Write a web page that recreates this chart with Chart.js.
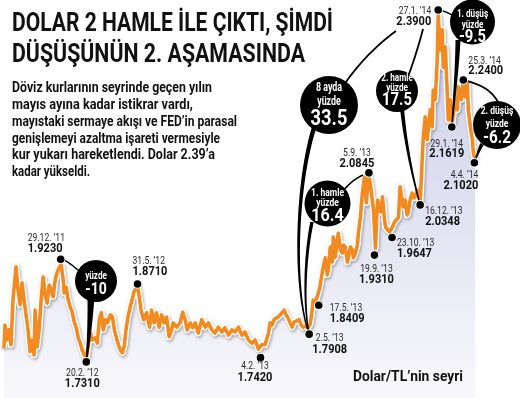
<!DOCTYPE html>
<html lang="tr"><head><meta charset="utf-8">
<script src="https://cdn.jsdelivr.net/npm/chart.js@4/dist/chart.umd.min.js"></script>
<style>
html,body{margin:0;padding:0;background:#fff;}
#wrap{position:relative;width:520px;height:398px;overflow:hidden;background:#fff;}
#c{position:absolute;left:0;top:0;}
.fit{position:absolute;white-space:nowrap;display:inline-block;transform-origin:0 0;font-family:Roboto,"Liberation Sans",sans-serif;font-weight:bold;color:#111;}
.t{font-size:26px;line-height:26px;}
.p{font-size:15.5px;line-height:16.7px;}
.s{font-size:14px;line-height:14px;}
</style></head><body>
<div id="wrap">
<canvas id="c" width="520" height="398"></canvas>
<div class="fit t" data-w="321" style="left:12px;top:9px">DOLAR 2 HAMLE İLE ÇIKTI, ŞİMDİ</div>
<div class="fit t" data-w="293" style="left:12px;top:40px">DÜŞÜŞÜNÜN 2. AŞAMASINDA</div>
<div class="fit p" data-w="200" style="left:12px;top:79.4px">Döviz kurlarının seyrinde geçen yılın</div>
<div class="fit p" data-w="181" style="left:12px;top:96.1px">mayıs ayına kadar istikrar vardı,</div>
<div class="fit p" data-w="225" style="left:12px;top:112.8px">mayıstaki sermaye akışı ve FED’in parasal</div>
<div class="fit p" data-w="208" style="left:12px;top:129.5px">genişlemeyi azaltma işareti vermesiyle</div>
<div class="fit p" data-w="203" style="left:12px;top:146.2px">kur yukarı hareketlendi. Dolar 2.39’a</div>
<div class="fit p" data-w="78" style="left:12px;top:162.9px">kadar yükseldi.</div>
<div class="fit s" data-w="110" style="left:353px;top:369px">Dolar/TL’nin seyri</div>
</div>
<script>
// ---- data: days since 1 Sep 2011, USD/TRY level ----
const days = [6,8,12,16,20,24,30,34,38,42,46,50,54,58,62,66,68,72,76,80,84,88,92,96,100,104,108,112,116,120,124,126,130,134,138,142,146,150,154,158,162,166,170,174,178,182,188,192,196,200,204,208,212,218,222,226,230,234,238,242,246,249,253,257,261,265,269,271,275,
 279,284,290,296,300,305,310,315,320,325,330,335,340,343,350,357,362,367,371,377,382,387,393,400,407,413,420,426,433,440,446,453,460,466,473,480,486,493,500,506,513,519,526,533,
 536,540,544,548,552,556,560,564,568,572,576,580,584,590,594,598,602,606,612,616,620,622,626,630,634,636,640,642,646,650,652,656,660,662,666,670,672,676,680,682,686,690,692,696,700,702,706,710,712,716,720,724,728,732,736,738,742,746,750,754,756,760,764,766,770,774,780,784,788,792,795,799,801,805,809,811,815,819,823,825,829,833,835,839,841,845,849,855,859,861,865,869,871,875,879,881,885,889,891,895,899,905,909,911,917,921,925,929,931,935,939,941,945];
const usdTry = [1.757,1.800,1.772,1.791,1.763,1.847,1.909,1.866,1.838,1.879,1.847,1.819,1.791,1.750,1.772,1.744,1.828,1.759,1.791,1.847,1.890,1.856,1.841,1.875,1.866,1.853,1.884,1.899,1.907,1.913,1.884,1.860,1.871,1.847,1.834,1.824,1.806,1.795,1.776,1.766,1.753,1.744,1.738,1.763,1.785,1.772,1.776,1.766,1.810,1.823,1.791,1.810,1.804,1.819,1.815,1.791,1.776,1.763,1.753,1.748,1.763,1.791,1.815,1.832,1.847,1.862,1.869,1.879,1.856,
 1.828,1.810,1.823,1.796,1.828,1.804,1.823,1.796,1.819,1.804,1.815,1.778,1.791,1.804,1.796,1.804,1.824,1.810,1.791,1.804,1.795,1.804,1.785,1.810,1.796,1.804,1.791,1.785,1.796,1.787,1.795,1.781,1.791,1.787,1.796,1.781,1.787,1.772,1.766,1.772,1.755,1.763,1.763,1.785,
 1.804,1.800,1.810,1.813,1.815,1.819,1.823,1.828,1.819,1.813,1.804,1.796,1.806,1.808,1.810,1.800,1.796,1.798,1.795,1.802,1.828,1.847,1.843,1.853,1.866,1.875,1.899,1.909,1.926,1.894,1.903,1.946,1.918,1.965,1.927,1.959,1.972,1.941,1.935,1.950,1.946,1.918,1.926,1.946,1.941,1.926,1.935,1.950,1.972,2.002,2.047,2.077,2.029,2.085,2.062,2.047,2.016,1.944,2.034,2.016,2.012,2.040,1.997,1.984,1.978,1.974,1.984,1.993,1.997,2.002,2.059,2.034,2.021,2.034,2.006,2.010,2.034,2.047,2.038,2.040,2.053,2.038,2.029,2.109,2.147,2.190,2.147,2.203,2.171,2.240,2.222,2.296,2.381,2.315,2.353,2.283,2.321,2.235,2.184,2.222,2.178,2.222,2.203,2.246,2.222,2.259,2.227,2.253,2.203,2.171,2.147,2.122,2.109];

// annotated points
const noteDates  = ["29.12. ’11","20.2. ’12","31.5. ’12","4.2. ’13","2.5. ’13","17.5. ’13","5.9. ’13","19.9. ’13","23.10. ’13","16.12. ’13","27.1. ’14","29.1. ’14","25.3. ’14","4.4. ’14"];
const noteValues = ["1.9230","1.7310","1.8710","1.7420","1.7908","1.8409","2.0845","1.9310","1.9647","2.0348","2.3900","2.1619","2.2400","2.1020"];
const noteDays   = [119,170,272,517,614,633,733,744,779,835,871,898,921,943];
const noteLevels = [1.923,1.731,1.877,1.739,1.783,1.837,2.085,1.931,1.964,2.025,2.390,2.171,2.259,2.104];

// bubble texts
const bubbleTexts = [["yüzde","-10"],["8 ayda","yüzde","33.5"],["1. hamle","yüzde","16.4"],["2. hamle","yüzde","17.5"],["1. düşüş","yüzde","-9.5"],["2. düşüş","yüzde","-6.2"]];

// ---- layout (pixels) ----
const labelLayout = [
 ['left',-33,-21,-10],['center',-4,11,22],['left',-5,-23,-12],['center',-5.5,9,20],
 ['center',20.5,4.5,16],['left',11,3,14],['center',-12,-20,-9],['center',2,14,25],
 ['left',5,6,17],['left',5,6,17],['right',-7,1,12],['center',-5,17,27],
 ['left',5,-19,-9],['right',4,13,23]];
const bubbleLayout = [
 {x:96,y:281,r:21,f:[[11,-5],[16.5,8.5]]},
 {x:329,y:105,r:29,f:[[12,-17],[12,-3],[21.5,14.5]]},
 {x:327.5,y:203.5,r:23,f:[[11.5,-10.5],[11.5,-0.5],[19,13]]},
 {x:397,y:91,r:21,f:[[11,-13],[11,-3],[17.5,10]]},
 {x:472.5,y:22,r:22.5,f:[[11,-8],[11,3],[17.5,16]]},
 {x:497,y:125,r:24,f:[[11.5,-14],[11.5,-1],[18,13]]}];

function fitText(){
  document.querySelectorAll('.fit').forEach(el=>{
    const w=parseFloat(el.dataset.w); const a=el.getBoundingClientRect().width;
    if(a>0) el.style.transform='scaleX('+(w/a)+')';
  });
}
fitText();

function txt(ctx,s,x,y,font,sx,align,color){
  ctx.save(); ctx.font=font; ctx.fillStyle=color; ctx.textBaseline='middle';
  const w=ctx.measureText(s).width*sx;
  let x0=x; if(align==='center') x0=x-w/2; else if(align==='right') x0=x-w;
  ctx.translate(x0,y); ctx.scale(sx,1); ctx.textAlign='left'; ctx.fillText(s,0,0); ctx.restore();
}
function bez(p0,c1,c2,p1,t){
  const u=1-t;
  return [u*u*u*p0[0]+3*u*u*t*c1[0]+3*u*t*t*c2[0]+t*t*t*p1[0],
          u*u*u*p0[1]+3*u*u*t*c1[1]+3*u*t*t*c2[1]+t*t*t*p1[1]];
}
function tail(ctx,p0,c1,c2,p1,w0,w1){
  const N=40, L=[], R=[];
  for(let i=0;i<=N;i++){
    const t=i/N, p=bez(p0,c1,c2,p1,t);
    const a=bez(p0,c1,c2,p1,Math.max(0,t-0.01)), b=bez(p0,c1,c2,p1,Math.min(1,t+0.01));
    let dx=b[0]-a[0], dy=b[1]-a[1]; const l=Math.hypot(dx,dy)||1; dx/=l; dy/=l;
    const w=(w0+(w1-w0)*t)/2;
    L.push([p[0]-dy*w,p[1]+dx*w]); R.push([p[0]+dy*w,p[1]-dx*w]);
  }
  ctx.beginPath(); ctx.moveTo(L[0][0],L[0][1]);
  L.forEach(q=>ctx.lineTo(q[0],q[1])); R.reverse().forEach(q=>ctx.lineTo(q[0],q[1]));
  ctx.closePath(); ctx.fillStyle='#000'; ctx.fill();
}
function line2(p0,c,p1){return [p0,[p0[0]+(c[0]-p0[0])*2/3,p0[1]+(c[1]-p0[1])*2/3],[p1[0]+(c[0]-p1[0])*2/3,p1[1]+(c[1]-p1[1])*2/3],p1];}

const shadowPlugin={id:'shadow',
  beforeDatasetDraw(chart,args){ if(args.index===1){const c=chart.ctx;c.save();c.shadowColor='rgba(70,70,70,0.45)';c.shadowBlur=3;c.shadowOffsetX=1;c.shadowOffsetY=1.5;} },
  afterDatasetDraw(chart,args){ if(args.index===1) chart.ctx.restore(); }};

const notesPlugin={id:'notes',
  afterDatasetsDraw(chart){
    const ctx=chart.ctx, xs=chart.scales.x, ys=chart.scales.y;
    const D=noteDays.map((d,i)=>[xs.getPixelForValue(d),ys.getPixelForValue(noteLevels[i])]);
    const conns=[
      [line2([91,296],[90,330],D[1]),7,1.5],
      [line2([D[0][0]+4,D[0][1]+1],[70,263],[79,271]),1.4,1.4],
      [[[314,128],[296,185],[293,290],D[4]],4.5,1.2],
      [[[346,82],[360,62],[378,44],[396,31]],1.8,1.8],
      [[[312,222],[305,255],[303,305],D[4]],3.5,1.2],
      [line2([344,190],[352,180],[363,175]),1.6,1.6],
      [line2([409,74],[417,52],[423,29]),1.8,1.8],
      [[[402,108],[405,140],[412,175],D[9]],4,1.2],
      [line2(D[10],[445,11],[452,15]),1.5,1.5],
      [[[458,40],[457,70],[454,100],D[11]],5,1.2],
      [[D[12],[478,84],[490,88],[498,102]],1.8,1.8],
      [line2([482,144],[478,152],D[13]),4,1]
    ];
    conns.forEach(c=>tail(ctx,c[0][0],c[0][1],c[0][2],c[0][3],c[1],c[2]));
    bubbleLayout.forEach((b,i)=>{
      ctx.beginPath(); ctx.arc(b.x,b.y,b.r,0,Math.PI*2); ctx.fillStyle='#000'; ctx.fill();
      bubbleTexts[i].forEach((s,j)=>{
        const f=b.f[j]; const isNum=/^-?\d+(\.\d)?$/.test(s);
        txt(ctx,s,b.x,b.y+f[1],'bold '+f[0]+'px Roboto',isNum?0.85:0.74,'center','#fff');
      });
    });
    D.forEach(p=>{
      ctx.beginPath(); ctx.arc(p[0],p[1],4.8,0,Math.PI*2); ctx.fillStyle='#fff'; ctx.fill();
      ctx.beginPath(); ctx.arc(p[0],p[1],3.8,0,Math.PI*2); ctx.fillStyle='#000'; ctx.fill();
    });
    D.forEach((p,i)=>{
      const L=labelLayout[i];
      txt(ctx,noteDates[i],p[0]+L[1],p[1]+L[2],'11px Roboto',0.78,L[0],'#2a2a2a');
      txt(ctx,noteValues[i],p[0]+L[1],p[1]+L[3],'bold 12px Roboto',0.92,L[0],'#111');
    });
  }};

const pts=days.map((d,i)=>({x:d,y:usdTry[i]}));
new Chart(document.getElementById('c'),{
  type:'line',
  data:{datasets:[
    {data:pts,borderWidth:0,borderColor:'rgba(0,0,0,0)',fill:'start',order:3,
     backgroundColor:(c)=>{const ch=c.chart,a=ch.chartArea;if(!a)return 'rgba(0,0,0,0)';
       const g=ch.ctx.createLinearGradient(0,a.top,0,a.bottom);
       g.addColorStop(0,'#c9cde8');g.addColorStop(0.5,'#dfe1f1');g.addColorStop(1,'#f8f8fb');return g;}},
    {data:pts,borderColor:'#ffffff',borderWidth:6.5,fill:false,order:2,borderJoinStyle:'round'},
    {data:pts,borderColor:'#f28a22',borderWidth:3.6,fill:false,order:1,borderJoinStyle:'round'}
  ]},
  options:{responsive:false,animation:false,
    layout:{padding:0},
    elements:{point:{radius:0,hoverRadius:0},line:{tension:0}},
    plugins:{legend:{display:false},tooltip:{enabled:false}},
    events:[],
    scales:{x:{type:'linear',display:false,min:-1.9,max:1033.9},
            y:{display:false,min:1.6634,max:2.4087}}},
  plugins:[shadowPlugin,notesPlugin]
});
</script>
</body></html>
